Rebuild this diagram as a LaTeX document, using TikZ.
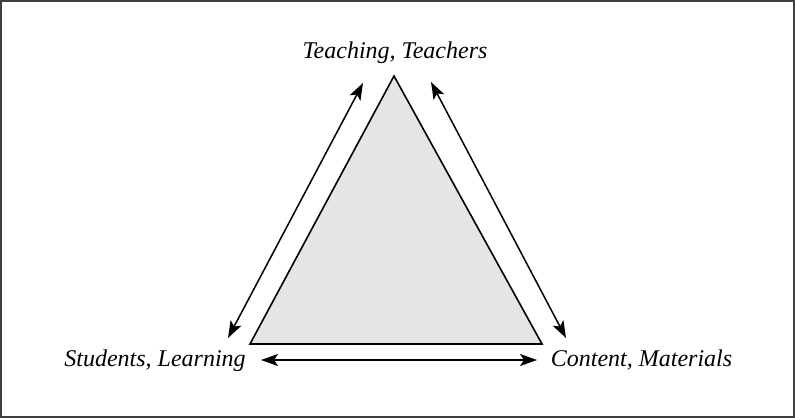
\documentclass[tikz,border=0pt]{standalone}
\usepackage{fontspec}
\setmainfont{Liberation Serif}
\usetikzlibrary{arrows.meta}
\begin{document}
\begin{tikzpicture}[x=1pt,y=-1pt,
  lbl/.style={font=\fontsize{24}{28}\selectfont\itshape, inner sep=0pt, anchor=base},
  dblarrow/.style={{Stealth[length=17pt,width=12pt,inset=4pt]}-{Stealth[length=17pt,width=12pt,inset=4pt]}, line width=1.5pt},
  tri/.style={draw=black, line width=1.6pt, fill=black!10, line join=miter}]
\useasboundingbox (0,0) rectangle (795,418);
\draw[line width=2.2pt, draw=black!75] (1.1,1.1) rectangle (793.9,416.9);
\coordinate (A) at (394,76);
\coordinate (B) at (250,344);
\coordinate (C) at (542,344);
\draw[tri] (A) -- (B) -- (C) -- cycle;
\node[lbl] (teach) at (395,58) {Teaching, Teachers};
\node[lbl] (stud) at (155,366) {Students, Learning};
\node[lbl] (cont) at (641.5,366) {Content, Materials};
\coordinate (l1) at (363,83);
\coordinate (l2) at (228,338);
\coordinate (r1) at (431,82);
\coordinate (r2) at (566,338);
\coordinate (b1) at (261,360);
\coordinate (b2) at (537,360);
\draw[dblarrow] (l1) -- (l2);
\draw[dblarrow] (r1) -- (r2);
\draw[dblarrow] (b1) -- (b2);
\end{tikzpicture}
\end{document}
